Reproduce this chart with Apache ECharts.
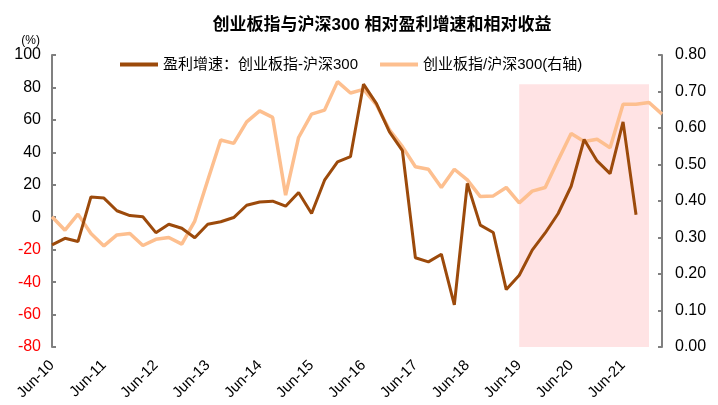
<!DOCTYPE html>
<html>
<head>
<meta charset="utf-8">
<script src="https://cdn.jsdelivr.net/npm/echarts@6/dist/echarts.min.js"></script>
<style>html,body{margin:0;padding:0;background:#fff}#c{width:718px;height:405px}</style>
</head>
<body>
<div id="c"></div>
<script>
var categories = [
  'Jun-10','Sep-10','Dec-10','Mar-11','Jun-11','Sep-11','Dec-11','Mar-12',
  'Jun-12','Sep-12','Dec-12','Mar-13','Jun-13','Sep-13','Dec-13','Mar-14',
  'Jun-14','Sep-14','Dec-14','Mar-15','Jun-15','Sep-15','Dec-15','Mar-16',
  'Jun-16','Sep-16','Dec-16','Mar-17','Jun-17','Sep-17','Dec-17','Mar-18',
  'Jun-18','Sep-18','Dec-18','Mar-19','Jun-19','Sep-19','Dec-19','Mar-20',
  'Jun-20','Sep-20','Dec-20','Mar-21','Jun-21','Sep-21','Dec-21','Mar-22'
];
var profitGrowthDiff = [
  -17, -13, -15, 12.5, 11.8, 4, 1, 0.3,
  -9.5, -4.3, -6.8, -12.7, -4.3, -2.8, -0.2, 7.4,
  9.4, 9.9, 6.8, 15.2, 2.3, 22.8, 34.1, 37.4,
  82, 70, 52.6, 41, -25, -27.5, -22.8, -54,
  20.8, -4.9, -9.4, -44.6, -35.8, -20.3, -9.7, 2.3,
  19.1, 47.9, 34.7, 26.9, 58.8, 1.5
];
var relativeReturn = [
  0.357, 0.320, 0.364, 0.311, 0.277, 0.307, 0.311, 0.278,
  0.295, 0.300, 0.282, 0.345, 0.457, 0.567, 0.558, 0.617,
  0.647, 0.629, 0.416, 0.574, 0.638, 0.649, 0.727, 0.696,
  0.706, 0.663, 0.595, 0.549, 0.494, 0.487, 0.437, 0.487,
  0.458, 0.412, 0.414, 0.437, 0.395, 0.427, 0.437, 0.512,
  0.585, 0.563, 0.569, 0.546, 0.665, 0.665, 0.670, 0.638
];
var leftTicks = [-80, 100, 20];
var rightTicks = [0, 0.8, 0.1];
var shadeRange = ['Jun-19', 'Dec-21', 0, 0.72];
var seriesNames = ['盈利增速：创业板指-沪深300', '创业板指/沪深300(右轴)'];

var FONT = 'Liberation Sans, Arial, Noto Sans CJK SC, sans-serif';
var chart = echarts.init(document.getElementById('c'));
chart.setOption({
  animation: false,
  textStyle: { fontFamily: FONT },
  title: {
    text: '创业板指与沪深300 相对盈利增速和相对收益',
    left: 377, top: 12, textAlign: 'center',
    textStyle: { fontSize: 17, fontWeight: 'bold', color: '#000', fontFamily: FONT }
  },
  legend: {
    data: seriesNames,
    left: 115, top: 52, icon: 'rect',
    itemWidth: 38, itemHeight: 4, itemGap: 22,
    textStyle: { fontSize: 15, color: '#000', fontFamily: FONT }
  },
  grid: { left: 52, right: 56, top: 55, bottom: 58, containLabel: false },
  xAxis: {
    type: 'category',
    data: categories,
    boundaryGap: false,
    axisLine: { show: false },
    axisTick: { show: false },
    axisLabel: { interval: 3, rotate: 45, fontSize: 15, color: '#000', margin: 16, fontFamily: FONT }
  },
  yAxis: [{
    type: 'value',
    min: leftTicks[0], max: leftTicks[1], interval: leftTicks[2],
    name: '(%)', nameLocation: 'end', nameGap: 8,
    nameTextStyle: { fontSize: 12, color: '#000', align: 'right', padding: [0, 12, 0, 0] },
    splitLine: { show: false },
    axisLine: { show: true, lineStyle: { color: '#808080', width: 2 } },
    axisTick: { show: true, inside: true, length: 4, lineStyle: { color: '#808080', width: 2 } },
    axisLabel: {
      fontSize: 16, margin: 11, fontFamily: FONT,
      color: function (v) { return Number(v) < 0 ? '#ff0000' : '#000'; }
    }
  }, {
    type: 'value',
    min: rightTicks[0], max: rightTicks[1], interval: rightTicks[2],
    splitLine: { show: false },
    axisLine: { show: true, lineStyle: { color: '#808080', width: 2 } },
    axisTick: { show: true, inside: true, length: 4, lineStyle: { color: '#808080', width: 2 } },
    axisLabel: {
      fontSize: 16, margin: 13, color: '#000', fontFamily: FONT,
      formatter: function (v) { return v.toFixed(2); }
    }
  }],
  series: [{
    name: 'shade', type: 'line', yAxisIndex: 1, data: [], z: 1, silent: true,
    markArea: {
      silent: true,
      itemStyle: { color: '#ffe3e4' },
      data: [[{ xAxis: shadeRange[0], yAxis: shadeRange[2] }, { xAxis: shadeRange[1], yAxis: shadeRange[3] }]]
    }
  }, {
    name: seriesNames[0], type: 'line', yAxisIndex: 0, data: profitGrowthDiff, z: 4,
    symbol: 'none', smooth: false,
    lineStyle: { color: '#9c4a0b', width: 3 }, itemStyle: { color: '#9c4a0b' }
  }, {
    name: seriesNames[1], type: 'line', yAxisIndex: 1, data: relativeReturn, z: 3,
    symbol: 'none', smooth: false,
    lineStyle: { color: '#fdbf8f', width: 3.5 }, itemStyle: { color: '#fdbf8f' }
  }]
});
</script>
</body>
</html>
